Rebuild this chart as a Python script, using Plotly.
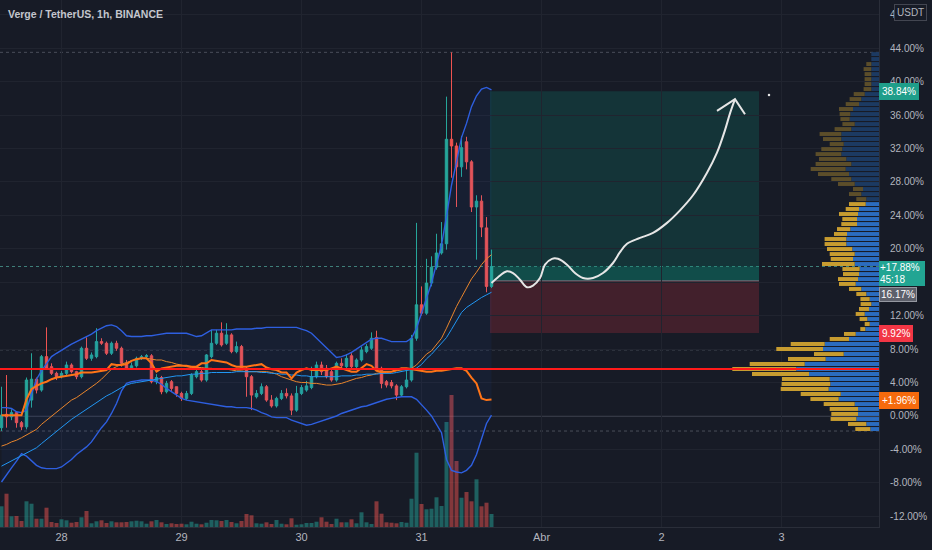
import pandas as pd
import plotly.graph_objects as go

TITLE = "Verge / TetherUS, 1h, BINANCE"
first_bar = pd.Timestamp("2021-03-27 12:00")
times = pd.date_range(first_bar, periods=99, freq="h")

opens = [-1.4, 0.2, -0.1, 0.4, -0.8, -1.3, 1.9, 4.4, 3.1, 7.1,
         5.9, 5.1, 4.7, 5.1, 6.1, 5.3, 4.7, 8.1, 6.9, 7.1,
         8.9, 8.7, 7.5, 8.7, 8.1, 6.3, 5.7, 6.0, 6.9, 7.1,
         7.2, 4.1, 4.6, 2.9, 4.1, 3.5, 2.7, 2.1, 2.7, 4.7,
         5.3, 4.3, 7.1, 8.7, 9.9, 8.7, 9.7, 7.7, 8.3, 5.7,
         4.7, 2.3, 2.7, 3.5, 1.9, 1.2, 2.1, 2.7, 2.4, 0.7,
         2.7, 3.1, 3.4, 4.7, 6.1, 5.7, 5.3, 4.3, 6.3, 5.9,
         7.2, 5.9, 6.7, 7.7, 8.1, 9.4, 5.7, 4.1, 4.0, 3.6,
         2.5, 3.5, 4.3, 9.3, 13.3, 12.3, 15.9, 17.8, 19.5, 20.6,
         33.1, 32.3, 29.8, 32.8, 30.4, 25.0, 25.7, 22.5, 15.5]
highs = [3.5, 4.9, 0.8, 0.6, -0.6, 4.6, 7.5, 4.6, 7.3, 10.6,
         6.3, 5.3, 5.4, 6.5, 6.3, 5.4, 8.3, 9.4, 7.6, 10.5,
         9.3, 8.9, 8.9, 9.0, 8.3, 6.7, 6.4, 7.1, 7.3, 7.4,
         7.4, 5.0, 4.8, 4.2, 4.3, 3.5, 2.9, 3.0, 5.1, 5.6,
         5.6, 7.4, 10.3, 10.3, 11.2, 11.1, 9.9, 8.9, 8.5, 5.9,
         4.9, 3.1, 3.9, 3.7, 2.5, 2.3, 3.1, 3.3, 2.7, 3.6,
         3.7, 4.2, 5.9, 6.5, 6.5, 6.1, 5.5, 6.5, 6.9, 7.4,
         7.5, 6.9, 8.3, 8.6, 10.0, 10.2, 5.9, 4.3, 4.3, 3.8,
         3.7, 5.5, 9.7, 23.1, 15.5, 18.8, 19.1, 21.8, 23.2, 38.2,
         43.5, 32.7, 33.5, 33.4, 30.6, 26.4, 26.4, 23.8, 19.9]
lows = [-1.8, -1.4, -0.5, -1.4, -1.7, -1.6, 1.0, 2.7, 2.9, 5.5,
        4.9, 4.3, 4.5, 4.9, 5.1, 4.4, 4.5, 6.7, 6.6, 6.9,
        8.5, 7.3, 7.3, 7.8, 5.9, 5.5, 5.5, 5.8, 6.7, 6.8,
        3.9, 3.8, 2.6, 2.7, 3.0, 2.3, 1.8, 1.9, 2.5, 4.5,
        4.1, 4.1, 6.9, 8.5, 8.3, 8.5, 7.5, 7.5, 5.5, 2.3,
        0.7, 2.1, 2.5, 1.7, 1.0, 1.0, 1.9, 2.1, 0.1, 0.5,
        2.5, 2.9, 3.2, 4.5, 4.9, 4.5, 4.1, 4.1, 5.5, 5.7,
        5.5, 5.6, 6.5, 7.5, 7.9, 5.5, 3.3, 3.4, 3.3, 1.9,
        2.3, 3.3, 4.1, 9.0, 12.0, 12.1, 15.5, 17.5, 19.3, 19.9,
        28.5, 25.0, 28.6, 29.5, 24.4, 18.7, 21.4, 14.8, 15.3]
closes = [0.1, -0.1, 0.4, -0.8, -1.3, 4.3, 4.4, 3.1, 7.1, 5.7,
          5.1, 4.7, 5.1, 6.1, 5.3, 4.7, 8.1, 6.9, 7.3, 8.9,
          8.7, 7.5, 8.7, 8.1, 6.3, 5.7, 6.0, 6.9, 7.1, 7.2,
          4.1, 4.6, 2.9, 3.9, 3.3, 2.7, 2.1, 2.7, 4.9, 5.3,
          4.3, 7.3, 8.7, 9.9, 8.5, 9.7, 7.7, 8.3, 5.7, 4.7,
          2.5, 2.7, 3.5, 1.9, 1.2, 2.1, 2.7, 2.4, 0.7, 2.7,
          3.4, 3.6, 4.7, 6.1, 5.3, 4.7, 4.3, 6.3, 6.0, 6.9,
          5.9, 6.7, 7.9, 8.3, 9.3, 5.7, 3.9, 3.7, 3.6, 2.5,
          3.5, 4.3, 9.3, 13.3, 12.3, 15.9, 17.8, 19.5, 20.6, 33.1,
          32.3, 29.8, 32.1, 30.4, 25.0, 25.7, 22.6, 15.5, 17.88]
volumes = [20.7, 33.3, 10.7, 11, 6, 25.7, 23.3, 8.3, 8.3, 19.3,
           5, 4, 7.7, 6.7, 4.3, 5, 9.7, 16, 3.7, 5.7,
           6.7, 4, 5.7, 4.7, 4.7, 5, 5.7, 6.3, 5.7, 3.3,
           5.7, 7, 4.7, 3, 3.7, 3, 3.3, 2.7, 5.3, 3.3,
           2.7, 4.3, 7, 6.7, 6, 7, 5, 3.7, 6, 13,
           11.7, 3.7, 3.3, 4.7, 3, 7, 3.3, 2.7, 8.7, 2.3,
           2.7, 4, 4, 5.3, 9.7, 5.3, 3, 8.3, 4.7, 4.7,
           7.7, 3.7, 14.7, 4.7, 3, 25.7, 13.3, 4.7, 4.3, 3.7,
           5, 4.3, 28.3, 74.3, 23, 17.7, 18.3, 29.7, 21, 105,
           132, 66, 29.3, 35, 25.7, 47.7, 20.7, 24.3, 13]
bb_upper = [1.0, 1.0, 0.9, 0.5, 0.4, 0.7, 2.6, 4.4, 5.4, 6.3,
            7.1, 7.5, 7.9, 8.2, 8.6, 8.9, 9.2, 9.5, 9.8, 10.2,
            10.5, 10.8, 10.9, 10.7, 10.2, 9.6, 9.5, 9.5, 9.5, 9.6,
            9.6, 9.7, 9.8, 9.9, 9.9, 9.9, 9.9, 9.9, 9.7, 9.5,
            9.6, 10.0, 10.3, 10.3, 10.3, 10.3, 10.3, 10.4, 10.4, 10.4,
            10.4, 10.5, 10.5, 10.6, 10.6, 10.6, 10.6, 10.6, 10.6, 10.6,
            10.4, 10.2, 9.9, 9.3, 8.8, 8.1, 7.5, 7.0, 7.1, 7.3,
            7.6, 8.0, 8.4, 8.8, 9.2, 9.3, 9.3, 9.1, 8.9, 8.9,
            8.9, 8.9, 9.3, 10.5, 12.3, 14.2, 15.9, 18.2, 20.4, 23.9,
            27.6, 30.4, 33.3, 35.0, 37.0, 38.3, 39.1, 39.3, 39.0]
bb_lower = [-7.9, -7.0, -6.2, -5.4, -4.5, -4.8, -5.4, -5.9, -6.2, -6.3,
            -6.3, -6.3, -6.1, -5.7, -5.2, -4.6, -4.2, -3.7, -3.1, -2.2,
            -1.4, -0.7, 0.3, 1.5, 3.0, 3.9, 4.1, 4.2, 4.3, 4.3,
            4.3, 4.1, 3.8, 3.3, 2.9, 2.5, 2.1, 1.9, 1.8, 1.7,
            1.6, 1.5, 1.4, 1.3, 1.2, 1.1, 1.1, 1.0, 1.0, 1.0,
            0.9, 0.7, 0.4, 0.2, -0.1, -0.2, -0.2, -0.2, -0.5, -0.7,
            -0.9, -1.1, -1.0, -0.8, -0.6, -0.4, -0.2, 0.0, 0.3, 0.5,
            0.7, 0.9, 1.1, 1.2, 1.4, 1.6, 1.8, 2.0, 2.1, 2.2,
            2.3, 2.3, 2.3, 2.0, 1.4, 0.7, 0.0, -1.0, -2.0, -5.2,
            -6.5, -6.7, -6.8, -6.5, -5.9, -4.6, -2.6, -0.9, 0.1]
ma_fast = [-6.0, -5.7, -5.4, -5.1, -4.8, -4.5, -4.1, -3.8, -3.3, -2.8,
           -2.3, -1.8, -1.4, -0.9, -0.4, 0.0, 0.4, 0.8, 1.3, 1.7,
           2.0, 2.4, 2.7, 3.1, 3.4, 3.7, 3.9, 4.0, 4.1, 4.2,
           4.3, 4.4, 4.5, 4.6, 4.7, 4.8, 4.8, 4.9, 5.0, 5.0,
           5.1, 5.1, 5.2, 5.2, 5.2, 5.2, 5.2, 5.3, 5.3, 5.3,
           5.3, 5.3, 5.2, 5.2, 5.1, 5.1, 5.0, 5.0, 4.9, 4.9,
           4.8, 4.8, 4.7, 4.7, 4.7, 4.7, 4.7, 4.7, 4.8, 4.8,
           4.8, 4.9, 4.9, 5.0, 5.0, 5.0, 5.1, 5.1, 5.1, 5.2,
           5.35, 5.44, 5.55, 5.73, 6.16, 6.84, 7.38, 8.02, 8.7, 9.38,
           10.36, 11.37, 12.38, 12.98, 13.41, 13.84, 14.17, 14.49, 14.8]
ma_slow = [-3.6, -3.4, -3.1, -2.9, -2.6, -2.3, -2.0, -1.6, -1.0, -0.5,
           0.0, 0.5, 1.0, 1.5, 1.9, 2.2, 2.6, 3.0, 3.5, 3.9,
           4.4, 5.0, 5.6, 5.9, 6.2, 6.4, 6.6, 6.8, 6.9, 6.9,
           6.8, 6.7, 6.7, 6.5, 6.4, 6.2, 6.1, 5.9, 5.8, 5.8,
           5.8, 5.7, 5.7, 5.6, 5.6, 5.6, 5.5, 5.4, 5.4, 5.3,
           5.3, 5.3, 5.3, 5.3, 5.2, 5.0, 4.7, 4.5, 4.3, 4.1,
           4.0, 4.0, 3.9, 3.9, 3.8, 3.7, 3.7, 3.8, 3.9, 4.1,
           4.3, 4.5, 4.6, 4.8, 4.9, 5.1, 5.2, 5.2, 5.3, 5.4,
           5.5, 5.6, 5.7, 6.1, 6.7, 7.4, 7.8, 8.6, 9.3, 10.5,
           11.9, 13.1, 14.2, 15.3, 16.4, 17.2, 18.1, 18.8, 19.3]
trend_line = [0.1, 0.1, 0.1, 0.1, 0.1, 2.0, 3.2, 3.6, 3.9, 4.1,
              4.4, 4.6, 4.7, 4.8, 4.9, 5.0, 5.2, 5.2, 5.2, 5.3,
              5.4, 5.5, 6.2, 6.1, 6.1, 6.2, 6.6, 6.8, 6.9, 6.9,
              6.3, 5.3, 5.7, 5.8, 5.9, 6.0, 6.0, 6.0, 5.9, 5.9,
              6.3, 6.3, 6.7, 6.6, 6.5, 6.4, 6.1, 5.9, 5.9, 5.9,
              6.0, 6.1, 6.2, 5.8, 5.6, 5.5, 5.2, 5.2, 4.5, 5.2,
              5.5, 5.7, 5.5, 5.5, 5.5, 5.5, 5.7, 5.9, 5.7, 5.5,
              5.3, 5.3, 5.7, 6.2, 6.0, 5.4, 5.3, 5.3, 5.3, 5.5,
              5.7, 5.7, 5.6, 5.5, 5.4, 5.3, 5.3, 5.4, 5.4, 5.5,
              5.6, 5.7, 5.7, 5.4, 4.6, 3.9, 2.1, 1.9, 1.96]

# Volume profile (visible range), rows bottom -> top
vp_levels = [-1.56, -0.96, -0.36, 0.24, 0.84, 1.43, 2.03, 2.63, 3.23, 3.83,
             4.42, 5.02, 5.62, 6.22, 6.82, 7.41, 8.01, 8.61, 9.21, 9.81,
             10.40, 11.00, 11.60, 12.20, 12.80, 13.39, 13.99, 14.59, 15.19, 15.79,
             16.38, 16.98, 17.58, 18.18, 18.78, 19.37, 19.97, 20.57, 21.17, 21.77,
             22.36, 22.96, 23.56, 24.16, 24.76, 25.35, 25.95, 26.55, 27.15, 27.75,
             28.34, 28.94, 29.54, 30.14, 30.74, 31.33, 31.93, 32.53, 33.13, 33.73,
             34.32, 34.92, 35.52, 36.12, 36.72, 37.31, 37.91, 38.51, 39.11, 39.71,
             40.30, 40.90, 41.50, 42.10, 42.70, 43.29]
vp_down = [15, 18.3, 25.7, 26.7, 28.3, 31, 28.3, 40, 48, 48.7,
           47.7, 57, 64, 55, 37.7, 29.7, 46.7, 34, 19.3, 11.7,
           5, 5, 7.7, 9, 10, 10.7, 9.3, 10, 12.3, 16.7,
           20, 16, 17.3, 32.7, 22.3, 25, 25.3, 21.7, 21.7, 13,
           13.3, 15.7, 14.7, 19, 13.3, 16.7, 10, 12.3, 10, 16.7,
           20, 31, 35, 35.7, 27.3, 25.7, 21, 14, 18.3, 21.7,
           16.7, 12.3, 9.3, 10.7, 14, 13.3, 11.7, 11, 7.7, 6.7,
           6.7, 6.7, 7.7, 5, 0, 0]
vp_up = [8.7, 12.7, 22.7, 21, 21, 24.3, 40.3, 38.3, 50.3, 48.7,
         49.3, 70, 82.7, 74.3, 53.3, 35.3, 56, 54.3, 30, 23.3,
         13.7, 9.3, 11.7, 14.3, 10, 7.7, 9.3, 12.7, 17.7, 23.3,
         21, 20, 19.3, 24.3, 26, 24.3, 26.7, 32.7, 32.7, 32,
         28.7, 22, 22, 21, 20, 13.3, 12.7, 17.7, 16, 24.3,
         27.7, 30, 33.3, 27.7, 32.7, 37.7, 36.7, 35.3, 37.7, 37.7,
         27.7, 24.3, 29.3, 28.7, 26, 20, 17.7, 14.3, 7.7, 7.7,
         7.7, 7.7, 7.7, 7.7, 7.7, 7.7]
value_area_high = 25.6

# Long position drawing
pos_start = pd.Timestamp("2021-03-31 13:42")
pos_end = pd.Timestamp("2021-04-02 19:30")
entry_price = 16.17
target_price = 38.84
stop_price = 9.92
last_price = 17.88
bar_countdown = "45:18"
ma_label_value = 1.96
high_level = 43.5
low_level = -1.8
ref_level = 7.9

# Freehand brush drawing (hours after first bar, percent)
brush_h = [98.0, 99.3, 101.1, 102.3, 103.7, 105.1, 106.3, 107.7, 108.7, 110.1,
           111.3, 113.1, 114.7, 116.3, 118.3, 120.3, 122.3, 123.7, 125.1, 127.7,
           130.3, 133.1, 135.7, 138.3, 141.1, 143.1, 144.7, 145.7, 146.7]
brush_p = [15.9, 16.6, 17.3, 17.1, 16.3, 15.4, 15.6, 16.5, 18.1, 18.8,
           18.8, 18.1, 17.1, 16.5, 16.5, 17.1, 18.3, 19.6, 20.6, 21.3,
           21.9, 23.1, 24.6, 26.4, 29.1, 31.5, 34.2, 36.2, 37.9]
arrow_h = [143.1, 146.7, 148.7]
arrow_p = [36.5, 37.9, 36.1]
dot_h = [153.5]
dot_p = [38.4]

tick_days = ["2021-03-28", "2021-03-29", "2021-03-30", "2021-03-31", "2021-04-01", "2021-04-02", "2021-04-03"]
tick_day_text = ["28", "29", "30", "31", "Abr", "2", "3"]
pct_ticks = [-12, -8, -4, 0, 4, 8, 12, 16, 20, 24, 28, 32, 36, 40, 44, 48]
hidden_ticks = [16]  # covered by the price labels on the scale

BG = "#171b26"
GRID = "#20242f"
TXT = "#b2b5be"
FONT = "Liberation Sans"
UP = "#26a69a"
DN = "#ef5350"


def h2t(hs):
    return [first_bar + pd.Timedelta(minutes=round(h * 60)) for h in hs]


fig = go.Figure()

# volume (base subplot)
vol_colors = ["rgba(38,166,154,0.5)" if c >= o else "rgba(239,83,80,0.5)" for o, c in zip(opens, closes)]
fig.add_trace(go.Bar(x=times, y=volumes, marker=dict(color=vol_colors, line=dict(width=0)),
                     width=0.8 * 3600 * 1000, xaxis="x", yaxis="y", hoverinfo="skip"))

# Bollinger fill
fig.add_trace(go.Scatter(x=times, y=bb_upper, mode="lines", line=dict(width=0, color="rgba(0,0,0,0)"),
                         xaxis="x", yaxis="y2", hoverinfo="skip"))
fig.add_trace(go.Scatter(x=times, y=bb_lower, mode="lines", line=dict(width=0, color="rgba(0,0,0,0)"),
                         fill="tonexty", fillcolor="rgba(41,98,255,0.06)", xaxis="x", yaxis="y2", hoverinfo="skip"))

# candles
fig.add_trace(go.Candlestick(x=times, open=opens, high=highs, low=lows, close=closes,
                             increasing=dict(line=dict(color=UP, width=1), fillcolor=UP),
                             decreasing=dict(line=dict(color=DN, width=1), fillcolor=DN),
                             xaxis="x", yaxis="y2", hoverinfo="skip"))

# indicator lines
fig.add_trace(go.Scatter(x=times, y=bb_upper, mode="lines", line=dict(color="#2e5fe0", width=1.4), xaxis="x", yaxis="y2", hoverinfo="skip"))
fig.add_trace(go.Scatter(x=times, y=bb_lower, mode="lines", line=dict(color="#2e5fe0", width=1.4), xaxis="x", yaxis="y2", hoverinfo="skip"))
fig.add_trace(go.Scatter(x=times, y=ma_slow, mode="lines", line=dict(color="#e9852c", width=1), xaxis="x", yaxis="y2", hoverinfo="skip"))
fig.add_trace(go.Scatter(x=times, y=ma_fast, mode="lines", line=dict(color="#2196f3", width=1), xaxis="x", yaxis="y2", hoverinfo="skip"))
fig.add_trace(go.Scatter(x=times, y=trend_line, mode="lines", line=dict(color="#ff7417", width=2), xaxis="x", yaxis="y2", hoverinfo="skip"))

# brush drawing
fig.add_trace(go.Scatter(x=h2t(brush_h), y=brush_p, mode="lines", line=dict(color="#e6e6e6", width=2, shape="spline"),
                         xaxis="x", yaxis="y2", hoverinfo="skip"))
fig.add_trace(go.Scatter(x=h2t(arrow_h), y=arrow_p, mode="lines", line=dict(color="#e6e6e6", width=2),
                         xaxis="x", yaxis="y2", hoverinfo="skip"))
fig.add_trace(go.Scatter(x=h2t(dot_h), y=dot_p, mode="markers", marker=dict(color="#e6e6e6", size=2.5),
                         xaxis="x", yaxis="y2", hoverinfo="skip"))

# volume profile
up_cols = ["#2b6cbf" if l <= value_area_high else "#1c3a62" for l in vp_levels]
dn_cols = ["#c79c30" if l <= value_area_high else "#5c4e2a" for l in vp_levels]
fig.add_trace(go.Bar(y=vp_levels, x=vp_up, base=[0] * len(vp_up), orientation="h", width=0.47,
                     marker=dict(color=up_cols, line=dict(width=0)), xaxis="x2", yaxis="y2", hoverinfo="skip"))
fig.add_trace(go.Bar(y=vp_levels, x=vp_down, base=vp_up, orientation="h", width=0.47,
                     marker=dict(color=dn_cols, line=dict(width=0)), xaxis="x2", yaxis="y2", hoverinfo="skip"))

totals = [u + d for u, d in zip(vp_up, vp_down)]
poc_level = vp_levels[totals.index(max(totals))]

shapes = []
# long position
shapes.append(dict(type="rect", xref="x", yref="y2", x0=pos_start, x1=pos_end, y0=entry_price, y1=target_price,
                   fillcolor="rgba(8,153,129,0.2)", line=dict(width=0), layer="below"))
shapes.append(dict(type="rect", xref="x", yref="y2", x0=pos_start, x1=pos_end, y0=entry_price, y1=last_price,
                   fillcolor="rgba(8,153,129,0.25)", line=dict(width=0), layer="below"))
shapes.append(dict(type="rect", xref="x", yref="y2", x0=pos_start, x1=pos_end, y0=stop_price, y1=entry_price,
                   fillcolor="rgba(242,54,69,0.2)", line=dict(width=0), layer="below"))
shapes.append(dict(type="line", xref="x", yref="y2", x0=pos_start, x1=pos_end, y0=entry_price, y1=entry_price,
                   line=dict(color="#6f727d", width=1), layer="below"))
# reference horizontal lines
shapes.append(dict(type="line", xref="paper", yref="y2", x0=0, x1=1, y0=0, y1=0, line=dict(color="#565a66", width=1), layer="below"))
for lv in (high_level, low_level, ref_level):
    shapes.append(dict(type="line", xref="paper", yref="y2", x0=0, x1=1, y0=lv, y1=lv,
                       line=dict(color="#4a4e5a", width=1, dash="dot"), layer="below"))
shapes.append(dict(type="line", xref="paper", yref="y2", x0=0, x1=1, y0=last_price, y1=last_price,
                   line=dict(color="#3f7f79", width=1, dash="dot"), layer="below"))
# POC line
shapes.append(dict(type="line", xref="paper", yref="y2", x0=0, x1=1, y0=poc_level, y1=poc_level,
                   line=dict(color="#ff1a1a", width=2), layer="above"))

annotations = [
    dict(text=TITLE, xref="paper", yref="paper", x=0.007, y=0.9735, xanchor="left", yanchor="middle",
         showarrow=False, font=dict(color="#c3c6cd", size=10.5, family=FONT, weight=600)),
    dict(text="USDT", xref="paper", yref="paper", x=1.0165, y=0.977, xanchor="left", yanchor="middle",
         showarrow=False, font=dict(color=TXT, size=10, family=FONT), bgcolor=BG,
         bordercolor="#434651", borderwidth=1, borderpad=2),
]


def axis_label(val, text, bg, border=None, pad=2, bw=1, width=None, font_col="#ffffff"):
    d = dict(text=text, xref="paper", yref="y2", x=1.0, y=val, xanchor="left", yanchor="middle",
             showarrow=False, align="left", font=dict(color=font_col, size=10, family=FONT),
             bgcolor=bg, bordercolor=border or bg, borderwidth=bw, borderpad=pad)
    if width:
        d["width"] = width
    return d


annotations += [
    axis_label(target_price, f"{target_price:.2f}%", "#1f9e8a"),
    axis_label(last_price - 0.06, f"+{last_price:.2f}%", "#22a593", pad=1, bw=0, width=44),
    axis_label(last_price - 1.61, bar_countdown, "#22a593", pad=1, bw=0, width=44),
    axis_label(entry_price - 1.58, f"{entry_price:.2f}%", "#5d606b", "#9598a1", pad=1),
    axis_label(stop_price, f"{stop_price:.2f}%", "#f23645"),
    axis_label(ma_label_value - 0.1, f"+{ma_label_value:.2f}%", "#f66a0c"),
]

fig.update_layout(
    width=932, height=550,
    margin=dict(l=0, r=53, t=0, b=23),
    paper_bgcolor=BG, plot_bgcolor=BG,
    showlegend=False, barmode="overlay", hovermode=False,
    font=dict(family=FONT, color=TXT, size=10),
    shapes=shapes, annotations=annotations,
    xaxis=dict(type="date", range=["2021-03-27 11:42", "2021-04-03 19:30"],
               tickvals=tick_days, ticktext=tick_day_text, tickfont=dict(size=11, color=TXT),
               showgrid=True, gridcolor=GRID, gridwidth=1, zeroline=False,
               showline=True, linecolor="#2a2e39", ticks="", rangeslider=dict(visible=False)),
    xaxis2=dict(overlaying="x", range=[879, 0], visible=False, showgrid=False, zeroline=False),
    yaxis=dict(range=[0, 527], visible=False, showgrid=False, zeroline=False),
    yaxis2=dict(overlaying="y", side="right", range=[-13.28, 49.76], tickvals=pct_ticks,
                ticktext=["" if v in hidden_ticks else f"{v:.2f}%" for v in pct_ticks],
                tickfont=dict(size=10, color=TXT),
                showgrid=True, gridcolor=GRID, gridwidth=1, zeroline=False,
                showline=True, linecolor="#2a2e39", ticks="", ticklabelstandoff=8),
)

fig.write_html("out.html", config={"displayModeBar": False},
               post_script="document.body.style.margin='0px';document.body.style.background='" + BG + "';")
